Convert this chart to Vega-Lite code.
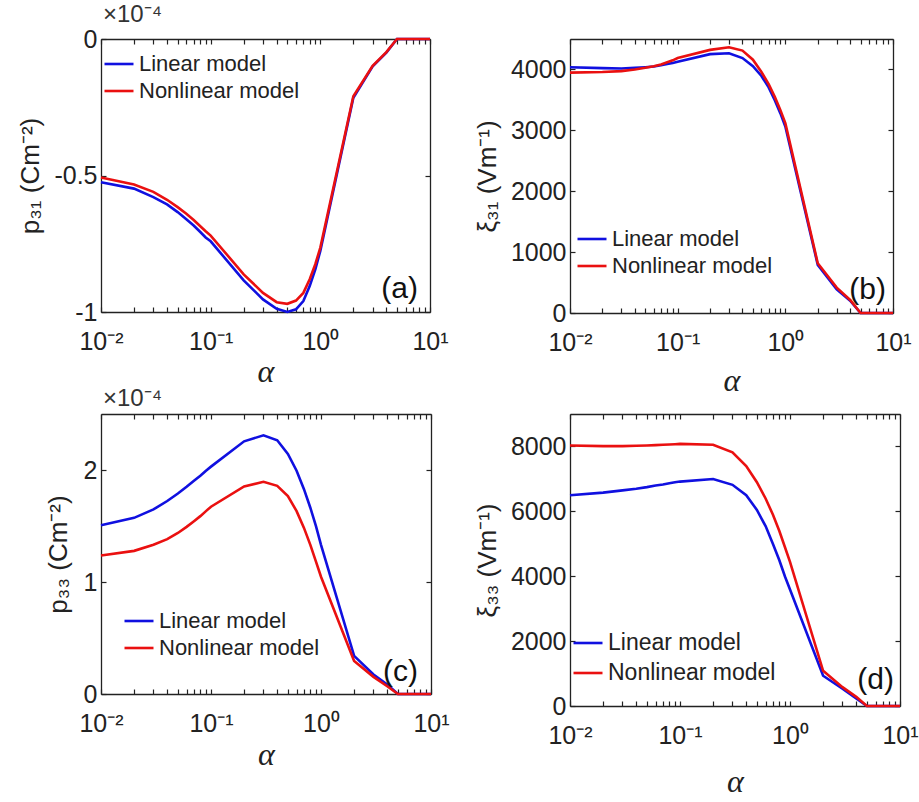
{
  "$schema": "https://vega.github.io/schema/vega-lite/v6.json",
  "padding": {"left": 17, "top": 3, "right": 0, "bottom": 0},
  "background": "white",
  "config": {
    "font": "Liberation Sans",
    "view": {"stroke": null},
    "axis": {"grid": false, "labelFontSize": 25, "titleFontSize": 26, "titleFontWeight": "normal", "labelColor": "#222", "titleColor": "#222", "domainColor": "#222", "tickColor": "#222", "domainWidth": 1.3, "tickWidth": 1.2, "tickSize": -5, "labelPadding": 9, "labelFlush": false, "labelOverlap": false},
    "axisX": {"labelPadding": 22},
    "legend": {"labelFontSize": 22, "labelColor": "#222", "symbolType": "stroke", "symbolSize": 841, "symbolStrokeWidth": 2.6, "padding": 0, "rowPadding": 0, "labelOffset": 4, "title": null, "labelLimit": 300}
  },
  "datasets": {
    "a": [
      {"alpha": 0.01, "Linear model": -0.525, "Nonlinear model": -0.507},
      {"alpha": 0.02, "Linear model": -0.548, "Nonlinear model": -0.533},
      {"alpha": 0.03, "Linear model": -0.579, "Nonlinear model": -0.560},
      {"alpha": 0.04, "Linear model": -0.606, "Nonlinear model": -0.589},
      {"alpha": 0.05, "Linear model": -0.634, "Nonlinear model": -0.616},
      {"alpha": 0.06, "Linear model": -0.660, "Nonlinear model": -0.640},
      {"alpha": 0.07, "Linear model": -0.683, "Nonlinear model": -0.663},
      {"alpha": 0.08, "Linear model": -0.706, "Nonlinear model": -0.685},
      {"alpha": 0.09, "Linear model": -0.727, "Nonlinear model": -0.704},
      {"alpha": 0.1, "Linear model": -0.741, "Nonlinear model": -0.720},
      {"alpha": 0.2, "Linear model": -0.884, "Nonlinear model": -0.862},
      {"alpha": 0.3, "Linear model": -0.954, "Nonlinear model": -0.930},
      {"alpha": 0.4, "Linear model": -0.988, "Nonlinear model": -0.964},
      {"alpha": 0.5, "Linear model": -1.000, "Nonlinear model": -0.970},
      {"alpha": 0.6, "Linear model": -0.990, "Nonlinear model": -0.958},
      {"alpha": 0.7, "Linear model": -0.960, "Nonlinear model": -0.930},
      {"alpha": 0.8, "Linear model": -0.905, "Nonlinear model": -0.880},
      {"alpha": 0.9, "Linear model": -0.844, "Nonlinear model": -0.825},
      {"alpha": 1, "Linear model": -0.776, "Nonlinear model": -0.764},
      {"alpha": 2, "Linear model": -0.215, "Nonlinear model": -0.210},
      {"alpha": 3, "Linear model": -0.100, "Nonlinear model": -0.098},
      {"alpha": 4, "Linear model": -0.050, "Nonlinear model": -0.048},
      {"alpha": 5, "Linear model": 0, "Nonlinear model": 0},
      {"alpha": 6, "Linear model": 0, "Nonlinear model": 0},
      {"alpha": 7, "Linear model": 0, "Nonlinear model": 0},
      {"alpha": 8, "Linear model": 0, "Nonlinear model": 0},
      {"alpha": 9, "Linear model": 0, "Nonlinear model": 0},
      {"alpha": 10, "Linear model": 0, "Nonlinear model": 0}
    ],
    "b": [
      {"alpha": 0.01, "Linear model": 4037, "Nonlinear model": 3947},
      {"alpha": 0.02, "Linear model": 4021, "Nonlinear model": 3957},
      {"alpha": 0.03, "Linear model": 4016, "Nonlinear model": 3973},
      {"alpha": 0.04, "Linear model": 4027, "Nonlinear model": 4000},
      {"alpha": 0.05, "Linear model": 4037, "Nonlinear model": 4027},
      {"alpha": 0.06, "Linear model": 4048, "Nonlinear model": 4053},
      {"alpha": 0.07, "Linear model": 4070, "Nonlinear model": 4080},
      {"alpha": 0.08, "Linear model": 4091, "Nonlinear model": 4118},
      {"alpha": 0.09, "Linear model": 4107, "Nonlinear model": 4150},
      {"alpha": 0.1, "Linear model": 4128, "Nonlinear model": 4187},
      {"alpha": 0.2, "Linear model": 4251, "Nonlinear model": 4321},
      {"alpha": 0.3, "Linear model": 4267, "Nonlinear model": 4364},
      {"alpha": 0.4, "Linear model": 4187, "Nonlinear model": 4310},
      {"alpha": 0.5, "Linear model": 4053, "Nonlinear model": 4160},
      {"alpha": 0.6, "Linear model": 3893, "Nonlinear model": 3957},
      {"alpha": 0.7, "Linear model": 3706, "Nonlinear model": 3759},
      {"alpha": 0.8, "Linear model": 3492, "Nonlinear model": 3545},
      {"alpha": 0.9, "Linear model": 3278, "Nonlinear model": 3332},
      {"alpha": 1, "Linear model": 3064, "Nonlinear model": 3118},
      {"alpha": 2, "Linear model": 791, "Nonlinear model": 818},
      {"alpha": 3, "Linear model": 390, "Nonlinear model": 417},
      {"alpha": 4, "Linear model": 203, "Nonlinear model": 214},
      {"alpha": 5, "Linear model": 0, "Nonlinear model": 0},
      {"alpha": 6, "Linear model": 0, "Nonlinear model": 0},
      {"alpha": 7, "Linear model": 0, "Nonlinear model": 0},
      {"alpha": 8, "Linear model": 0, "Nonlinear model": 0},
      {"alpha": 9, "Linear model": 0, "Nonlinear model": 0},
      {"alpha": 10, "Linear model": 0, "Nonlinear model": 0}
    ],
    "c": [
      {"alpha": 0.01, "Linear model": 1.507, "Nonlinear model": 1.236},
      {"alpha": 0.02, "Linear model": 1.573, "Nonlinear model": 1.278},
      {"alpha": 0.03, "Linear model": 1.648, "Nonlinear model": 1.332},
      {"alpha": 0.04, "Linear model": 1.723, "Nonlinear model": 1.383},
      {"alpha": 0.05, "Linear model": 1.790, "Nonlinear model": 1.438},
      {"alpha": 0.06, "Linear model": 1.850, "Nonlinear model": 1.492},
      {"alpha": 0.07, "Linear model": 1.904, "Nonlinear model": 1.543},
      {"alpha": 0.08, "Linear model": 1.949, "Nonlinear model": 1.588},
      {"alpha": 0.09, "Linear model": 1.994, "Nonlinear model": 1.633},
      {"alpha": 0.1, "Linear model": 2.030, "Nonlinear model": 1.672},
      {"alpha": 0.2, "Linear model": 2.256, "Nonlinear model": 1.853},
      {"alpha": 0.3, "Linear model": 2.310, "Nonlinear model": 1.895},
      {"alpha": 0.4, "Linear model": 2.265, "Nonlinear model": 1.859},
      {"alpha": 0.5, "Linear model": 2.144, "Nonlinear model": 1.768},
      {"alpha": 0.6, "Linear model": 1.994, "Nonlinear model": 1.633},
      {"alpha": 0.7, "Linear model": 1.829, "Nonlinear model": 1.483},
      {"alpha": 0.8, "Linear model": 1.663, "Nonlinear model": 1.332},
      {"alpha": 0.9, "Linear model": 1.498, "Nonlinear model": 1.182},
      {"alpha": 1, "Linear model": 1.332, "Nonlinear model": 1.047},
      {"alpha": 2, "Linear model": 0.340, "Nonlinear model": 0.295},
      {"alpha": 3, "Linear model": 0.174, "Nonlinear model": 0.153},
      {"alpha": 4, "Linear model": 0.084, "Nonlinear model": 0.069},
      {"alpha": 5, "Linear model": 0, "Nonlinear model": 0},
      {"alpha": 6, "Linear model": 0, "Nonlinear model": 0},
      {"alpha": 7, "Linear model": 0, "Nonlinear model": 0},
      {"alpha": 8, "Linear model": 0, "Nonlinear model": 0},
      {"alpha": 9, "Linear model": 0, "Nonlinear model": 0},
      {"alpha": 10, "Linear model": 0, "Nonlinear model": 0}
    ],
    "d": [
      {"alpha": 0.01, "Linear model": 6496, "Nonlinear model": 8030},
      {"alpha": 0.02, "Linear model": 6576, "Nonlinear model": 8010},
      {"alpha": 0.03, "Linear model": 6647, "Nonlinear model": 8010},
      {"alpha": 0.04, "Linear model": 6697, "Nonlinear model": 8020},
      {"alpha": 0.05, "Linear model": 6747, "Nonlinear model": 8030},
      {"alpha": 0.06, "Linear model": 6797, "Nonlinear model": 8040},
      {"alpha": 0.07, "Linear model": 6827, "Nonlinear model": 8050},
      {"alpha": 0.08, "Linear model": 6867, "Nonlinear model": 8060},
      {"alpha": 0.09, "Linear model": 6897, "Nonlinear model": 8070},
      {"alpha": 0.1, "Linear model": 6917, "Nonlinear model": 8080},
      {"alpha": 0.2, "Linear model": 6997, "Nonlinear model": 8050},
      {"alpha": 0.3, "Linear model": 6817, "Nonlinear model": 7820},
      {"alpha": 0.4, "Linear model": 6496, "Nonlinear model": 7398},
      {"alpha": 0.5, "Linear model": 6045, "Nonlinear model": 6897},
      {"alpha": 0.6, "Linear model": 5544, "Nonlinear model": 6396},
      {"alpha": 0.7, "Linear model": 4992, "Nonlinear model": 5895},
      {"alpha": 0.8, "Linear model": 4491, "Nonlinear model": 5393},
      {"alpha": 0.9, "Linear model": 3990, "Nonlinear model": 4892},
      {"alpha": 1, "Linear model": 3589, "Nonlinear model": 4441},
      {"alpha": 2, "Linear model": 932, "Nonlinear model": 1083},
      {"alpha": 3, "Linear model": 531, "Nonlinear model": 581},
      {"alpha": 4, "Linear model": 231, "Nonlinear model": 281},
      {"alpha": 5, "Linear model": 0, "Nonlinear model": 0},
      {"alpha": 6, "Linear model": 0, "Nonlinear model": 0},
      {"alpha": 7, "Linear model": 0, "Nonlinear model": 0},
      {"alpha": 8, "Linear model": 0, "Nonlinear model": 0},
      {"alpha": 9, "Linear model": 0, "Nonlinear model": 0},
      {"alpha": 10, "Linear model": 0, "Nonlinear model": 0}
    ]
  },
  "columns": 2,
  "bounds": "flush",
  "spacing": {"row": 101, "column": 139},
  "resolve": {"scale": {"color": "independent"}, "legend": {"color": "independent"}},
  "concat": [
    {
      "width": 329, "height": 273,
      "title": {"text": "×10⁻⁴", "anchor": "start", "frame": "group", "fontSize": 24, "fontWeight": "normal", "color": "#333", "offset": 0, "dx": 2},
      "data": {"name": "a"},
      "transform": [{"fold": ["Linear model", "Nonlinear model"], "as": ["model", "value"]}],
      "layer": [
        {
          "mark": {"type": "line", "strokeWidth": 2.6},
          "encoding": {
            "x": {"field": "alpha", "type": "quantitative", "scale": {"type": "log", "domain": [0.01, 10]},
              "axis": {"orient": "bottom", "values": [0.01,0.02,0.03,0.04,0.05,0.06,0.07,0.08,0.09,0.1,0.2,0.3,0.4,0.5,0.6,0.7,0.8,0.9,1,2,3,4,5,6,7,8,9,10],
                "labelExpr": "datum.value == 0.01 ? '10⁻²' : datum.value == 0.1 ? '10⁻¹' : datum.value == 1 ? '10⁰' : datum.value == 10 ? '10¹' : ''",
                "title": "α", "titleFont": "Liberation Serif", "titleFontStyle": "italic", "titleFontSize": 32, "titlePadding": 2}},
            "y": {"field": "value", "type": "quantitative", "scale": {"domain": [-1, 0], "nice": false},
              "axis": {"orient": "left", "values": [-1, -0.5, 0], "labelExpr": "datum.value == 0 ? '0' : datum.value == -0.5 ? '-0.5' : '-1'", "title": "p₃₁ (Cm⁻²)", "titlePadding": 10}},
            "color": {"field": "model", "type": "nominal", "scale": {"domain": ["Linear model", "Nonlinear model"], "range": ["#1010e0", "#ea1010"]},
              "legend": {"orient": "none", "legendX": 2, "legendY": 9}}
          }
        },
        {
          "mark": {"type": "line", "opacity": 0},
          "encoding": {
            "x": {"field": "alpha", "type": "quantitative", "axis": {"orient": "top", "labels": false, "title": null, "values": [0.01,0.02,0.03,0.04,0.05,0.06,0.07,0.08,0.09,0.1,0.2,0.3,0.4,0.5,0.6,0.7,0.8,0.9,1,2,3,4,5,6,7,8,9,10]}},
            "y": {"field": "value", "type": "quantitative", "axis": {"orient": "right", "labels": false, "title": null, "values": [-1, -0.5, 0]}}
          }
        },
        {
          "data": {"values": [{"label": "(a)"}]},
          "mark": {"type": "text", "align": "right", "baseline": "bottom", "dx": -12, "dy": -8, "font": "Liberation Sans", "fontSize": 30, "fill": "#111"},
          "encoding": {"text": {"field": "label"}, "x": {"datum": 10, "type": "quantitative", "axis": null}, "y": {"datum": -1, "type": "quantitative", "axis": null}}
        }
      ],
      "resolve": {"axis": {"x": "independent", "y": "independent"}}
    },
    {
      "width": 323, "height": 274,
      "data": {"name": "b"},
      "transform": [{"fold": ["Linear model", "Nonlinear model"], "as": ["model", "value"]}],
      "layer": [
        {
          "mark": {"type": "line", "strokeWidth": 2.6},
          "encoding": {
            "x": {"field": "alpha", "type": "quantitative", "scale": {"type": "log", "domain": [0.01, 10]},
              "axis": {"orient": "bottom", "values": [0.01,0.02,0.03,0.04,0.05,0.06,0.07,0.08,0.09,0.1,0.2,0.3,0.4,0.5,0.6,0.7,0.8,0.9,1,2,3,4,5,6,7,8,9,10],
                "labelExpr": "datum.value == 0.01 ? '10⁻²' : datum.value == 0.1 ? '10⁻¹' : datum.value == 1 ? '10⁰' : datum.value == 10 ? '10¹' : ''",
                "title": "α", "titleFont": "Liberation Serif", "titleFontStyle": "italic", "titleFontSize": 32, "titlePadding": 10}},
            "y": {"field": "value", "type": "quantitative", "scale": {"domain": [0, 4500], "nice": false},
              "axis": {"orient": "left", "values": [0, 1000, 2000, 3000, 4000], "format": "d", "title": "ξ₃₁ (Vm⁻¹)", "titlePadding": 10}},
            "color": {"field": "model", "type": "nominal", "scale": {"domain": ["Linear model", "Nonlinear model"], "range": ["#1010e0", "#ea1010"]},
              "legend": {"orient": "none", "legendX": 6, "legendY": 184}}
          }
        },
        {
          "mark": {"type": "line", "opacity": 0},
          "encoding": {
            "x": {"field": "alpha", "type": "quantitative", "axis": {"orient": "top", "labels": false, "title": null, "values": [0.01,0.02,0.03,0.04,0.05,0.06,0.07,0.08,0.09,0.1,0.2,0.3,0.4,0.5,0.6,0.7,0.8,0.9,1,2,3,4,5,6,7,8,9,10]}},
            "y": {"field": "value", "type": "quantitative", "axis": {"orient": "right", "labels": false, "title": null, "values": [0, 1000, 2000, 3000, 4000]}}
          }
        },
        {
          "data": {"values": [{"label": "(b)"}]},
          "mark": {"type": "text", "align": "right", "baseline": "bottom", "dx": -7, "dy": -8, "font": "Liberation Sans", "fontSize": 30, "fill": "#111"},
          "encoding": {"text": {"field": "label"}, "x": {"datum": 10, "type": "quantitative", "axis": null}, "y": {"datum": 0, "type": "quantitative", "axis": null}}
        }
      ],
      "resolve": {"axis": {"x": "independent", "y": "independent"}}
    },
    {
      "width": 330, "height": 280,
      "title": {"text": "×10⁻⁴", "anchor": "start", "frame": "group", "fontSize": 24, "fontWeight": "normal", "color": "#333", "offset": 2, "dx": 2},
      "data": {"name": "c"},
      "transform": [{"fold": ["Linear model", "Nonlinear model"], "as": ["model", "value"]}],
      "layer": [
        {
          "mark": {"type": "line", "strokeWidth": 2.6},
          "encoding": {
            "x": {"field": "alpha", "type": "quantitative", "scale": {"type": "log", "domain": [0.01, 10]},
              "axis": {"orient": "bottom", "values": [0.01,0.02,0.03,0.04,0.05,0.06,0.07,0.08,0.09,0.1,0.2,0.3,0.4,0.5,0.6,0.7,0.8,0.9,1,2,3,4,5,6,7,8,9,10],
                "labelExpr": "datum.value == 0.01 ? '10⁻²' : datum.value == 0.1 ? '10⁻¹' : datum.value == 1 ? '10⁰' : datum.value == 10 ? '10¹' : ''",
                "title": "α", "titleFont": "Liberation Serif", "titleFontStyle": "italic", "titleFontSize": 32, "titlePadding": 3}},
            "y": {"field": "value", "type": "quantitative", "scale": {"domain": [0, 2.5], "nice": false},
              "axis": {"orient": "left", "values": [0, 1, 2], "title": "p₃₃ (Cm⁻²)", "titlePadding": 12}},
            "color": {"field": "model", "type": "nominal", "scale": {"domain": ["Linear model", "Nonlinear model"], "range": ["#1010e0", "#ea1010"]},
              "legend": {"orient": "none", "legendX": 22, "legendY": 191}}
          }
        },
        {
          "mark": {"type": "line", "opacity": 0},
          "encoding": {
            "x": {"field": "alpha", "type": "quantitative", "axis": {"orient": "top", "labels": false, "title": null, "values": [0.01,0.02,0.03,0.04,0.05,0.06,0.07,0.08,0.09,0.1,0.2,0.3,0.4,0.5,0.6,0.7,0.8,0.9,1,2,3,4,5,6,7,8,9,10]}},
            "y": {"field": "value", "type": "quantitative", "axis": {"orient": "right", "labels": false, "title": null, "values": [0, 1, 2]}}
          }
        },
        {
          "data": {"values": [{"label": "(c)"}]},
          "mark": {"type": "text", "align": "right", "baseline": "bottom", "dx": -13, "dy": -7, "font": "Liberation Sans", "fontSize": 30, "fill": "#111"},
          "encoding": {"text": {"field": "label"}, "x": {"datum": 10, "type": "quantitative", "axis": null}, "y": {"datum": 0, "type": "quantitative", "axis": null}}
        }
      ],
      "resolve": {"axis": {"x": "independent", "y": "independent"}}
    },
    {
      "width": 330, "height": 292,
      "data": {"name": "d"},
      "transform": [{"fold": ["Linear model", "Nonlinear model"], "as": ["model", "value"]}],
      "layer": [
        {
          "mark": {"type": "line", "strokeWidth": 2.6},
          "encoding": {
            "x": {"field": "alpha", "type": "quantitative", "scale": {"type": "log", "domain": [0.01, 10]},
              "axis": {"orient": "bottom", "values": [0.01,0.02,0.03,0.04,0.05,0.06,0.07,0.08,0.09,0.1,0.2,0.3,0.4,0.5,0.6,0.7,0.8,0.9,1,2,3,4,5,6,7,8,9,10],
                "labelExpr": "datum.value == 0.01 ? '10⁻²' : datum.value == 0.1 ? '10⁻¹' : datum.value == 1 ? '10⁰' : datum.value == 10 ? '10¹' : ''",
                "title": "α", "titleFont": "Liberation Serif", "titleFontStyle": "italic", "titleFontSize": 32, "titlePadding": 18}},
            "y": {"field": "value", "type": "quantitative", "scale": {"domain": [0, 9000], "nice": false},
              "axis": {"orient": "left", "values": [0, 2000, 4000, 6000, 8000], "format": "d", "title": "ξ₃₃ (Vm⁻¹)", "titlePadding": 10}},
            "color": {"field": "model", "type": "nominal", "scale": {"domain": ["Linear model", "Nonlinear model"], "range": ["#1010e0", "#ea1010"]},
              "legend": {"orient": "none", "legendX": 2, "legendY": 213, "labelFontSize": 23, "rowPadding": 2}}
          }
        },
        {
          "mark": {"type": "line", "opacity": 0},
          "encoding": {
            "x": {"field": "alpha", "type": "quantitative", "axis": {"orient": "top", "labels": false, "title": null, "values": [0.01,0.02,0.03,0.04,0.05,0.06,0.07,0.08,0.09,0.1,0.2,0.3,0.4,0.5,0.6,0.7,0.8,0.9,1,2,3,4,5,6,7,8,9,10]}},
            "y": {"field": "value", "type": "quantitative", "axis": {"orient": "right", "labels": false, "title": null, "values": [0, 2000, 4000, 6000, 8000]}}
          }
        },
        {
          "data": {"values": [{"label": "(d)"}]},
          "mark": {"type": "text", "align": "right", "baseline": "bottom", "dx": -6, "dy": -11, "font": "Liberation Sans", "fontSize": 30, "fill": "#111"},
          "encoding": {"text": {"field": "label"}, "x": {"datum": 10, "type": "quantitative", "axis": null}, "y": {"datum": 0, "type": "quantitative", "axis": null}}
        }
      ],
      "resolve": {"axis": {"x": "independent", "y": "independent"}}
    }
  ]
}
